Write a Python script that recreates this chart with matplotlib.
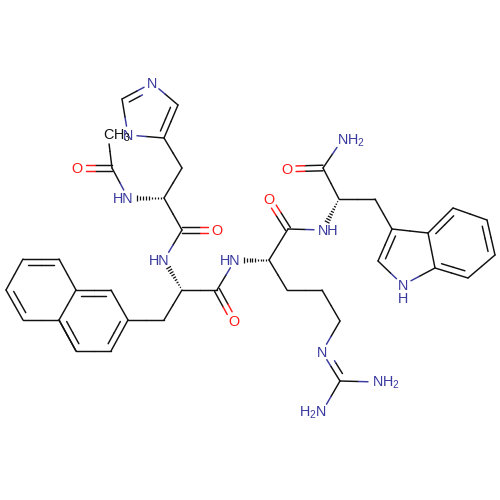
import numpy as np
import matplotlib
matplotlib.use('Agg')
import matplotlib.pyplot as plt

plt.rcParams['font.family'] = ['Liberation Sans', 'DejaVu Sans']
plt.rcParams['mathtext.fontset'] = 'custom'
plt.rcParams['mathtext.rm'] = 'Liberation Sans'
plt.rcParams['mathtext.default'] = 'regular'

NAVY = '#3a3a9e'
RED = '#ff1a1a'
BLACK = '#111111'

# atoms (pixels)
atom_ids = ['ac_me', 'ac_c', 'ac_o', 'his_n', 'his_ca', 'his_cb', 'im_c5', 'im_c4', 'im_n1', 'im_c2', 'im_n3',
            'his_c', 'his_o', 'nal_n', 'nal_ca', 'nal_cb', 'nal_c', 'nal_o',
            'np1', 'np2', 'np3', 'np4', 'np5', 'np6', 'np7', 'np8', 'np9', 'np10',
            'arg_n', 'arg_ca', 'arg_c', 'arg_o', 'arg_cb', 'arg_cg', 'arg_cd', 'arg_ne', 'arg_cz', 'arg_n1', 'arg_n2',
            'trp_n', 'trp_ca', 'trp_c', 'trp_o', 'trp_nt', 'trp_cb',
            'in3', 'in3a', 'in4', 'in5', 'in6', 'in7', 'in7a', 'in1', 'in2']
atom_x = [108, 112, 77, 128, 164, 182, 164, 178, 152, 122, 128,
          182, 217, 164, 182, 164, 217, 234,
          128, 111, 76, 59, 23, 6, 23, 59, 76, 111,
          235, 269, 288, 269, 287, 322, 340, 322, 340, 377, 322,
          323, 339, 323, 287, 342, 375,
          392, 428, 453, 487, 495, 468, 435, 403, 378]
atom_y = [135, 168, 168, 198, 198, 168, 138, 105, 83, 99, 135,
          230, 230, 260, 290, 320, 290, 321,
          320, 351, 351, 320, 320, 290, 259, 259, 290, 290,
          260, 260, 229, 199, 290, 290, 321, 352, 381, 382, 412,
          230, 199, 168, 169, 140, 199,
          229, 233, 208, 220, 255, 278, 268, 285, 261]
hetero_atoms = {'ac_me': BLACK, 'ac_o': RED, 'his_n': NAVY, 'im_n1': NAVY, 'im_n3': NAVY, 'his_o': RED,
                'nal_n': NAVY, 'nal_o': RED, 'arg_n': NAVY, 'arg_o': RED, 'arg_ne': NAVY, 'arg_n1': NAVY,
                'arg_n2': NAVY, 'trp_n': NAVY, 'trp_o': RED, 'trp_nt': NAVY, 'in1': NAVY}

single_bonds = [('ac_me', 'ac_c'), ('ac_c', 'his_n'), ('his_ca', 'his_cb'), ('his_cb', 'im_c5'), ('im_c5', 'im_n3'),
                ('im_n3', 'im_c2'), ('im_c4', 'im_n1'), ('his_ca', 'his_c'), ('his_c', 'nal_n'),
                ('nal_ca', 'nal_cb'), ('nal_cb', 'np1'), ('nal_ca', 'nal_c'), ('nal_c', 'arg_n'),
                ('np1', 'np10'), ('np3', 'np2'), ('np4', 'np3'), ('np4', 'np5'), ('np6', 'np7'), ('np8', 'np9'),
                ('np9', 'np4'), ('arg_ca', 'arg_c'), ('arg_ca', 'arg_cb'), ('arg_cb', 'arg_cg'), ('arg_cg', 'arg_cd'),
                ('arg_cd', 'arg_ne'), ('arg_cz', 'arg_n1'), ('arg_cz', 'arg_n2'), ('arg_c', 'trp_n'),
                ('trp_ca', 'trp_c'), ('trp_c', 'trp_nt'), ('trp_ca', 'trp_cb'), ('trp_cb', 'in3'),
                ('in3', 'in3a'), ('in3a', 'in7a'), ('in4', 'in5'), ('in6', 'in7'), ('in7a', 'in1'), ('in1', 'in2')]
carbonyl_bonds = [('ac_c', 'ac_o'), ('his_c', 'his_o'), ('nal_c', 'nal_o'), ('arg_c', 'arg_o'), ('trp_c', 'trp_o')]
# the inner line of these sits on the side of the third atom
inner_double_bonds = [('np7', 'np8', 'np4'), ('np6', 'np5', 'np9'), ('np9', 'np10', 'np2'), ('np1', 'np2', 'np9'),
                      ('np3', 'np4', 'np10'), ('im_n1', 'im_c2', 'im_c5'), ('im_c4', 'im_c5', 'im_n1'),
                      ('in2', 'in3', 'in7a'), ('in3a', 'in4', 'in6'), ('in5', 'in6', 'in7a'), ('in7', 'in7a', 'in5'),
                      ('arg_ne', 'arg_cz', 'arg_n1')]
hash_bonds = [('his_ca', 'his_n'), ('nal_ca', 'nal_n'), ('arg_ca', 'arg_n'), ('trp_ca', 'trp_n')]

# atom, text, colour, alignment
labels = [('ac_o', 'O', RED, 'center'), ('his_o', 'O', RED, 'center'), ('nal_o', 'O', RED, 'center'),
          ('arg_o', 'O', RED, 'center'), ('trp_o', 'O', RED, 'center'),
          ('im_n1', 'N', NAVY, 'center'), ('im_n3', 'N', NAVY, 'center'), ('arg_ne', 'N', NAVY, 'center'),
          ('in1', 'N', NAVY, 'center'),
          ('his_n', 'HN', NAVY, 'right'), ('nal_n', 'HN', NAVY, 'right'), ('arg_n', 'HN', NAVY, 'right'),
          ('arg_n2', 'H$_2$N', NAVY, 'right'),
          ('trp_n', 'NH', NAVY, 'left'), ('trp_nt', 'NH$_2$', NAVY, 'left'), ('arg_n1', 'NH$_2$', NAVY, 'left'),
          ('ac_me', 'CH$_3$', BLACK, 'left')]

pos = {a: np.array([x, y], dtype=float) for a, x, y in zip(atom_ids, atom_x, atom_y)}
LW = 1.05
TRIM = 9.0
FS = 10.4


def half_bond(ax, p, q, a, b):
    # p,q already offset; each half takes the colour of its atom
    d = q - p
    unit = d / np.linalg.norm(d)
    mid = (p + q) / 2
    start = p + unit * TRIM if a in hetero_atoms else p
    end = q - unit * TRIM if b in hetero_atoms else q
    ax.plot([start[0], mid[0]], [start[1], mid[1]], color=hetero_atoms.get(a, BLACK), lw=LW, solid_capstyle='round')
    ax.plot([mid[0], end[0]], [mid[1], end[1]], color=hetero_atoms.get(b, BLACK), lw=LW, solid_capstyle='round')


fig = plt.figure(figsize=(5, 5), dpi=100)
ax = fig.add_axes([0, 0, 1, 1])
ax.set_xlim(0, 500)
ax.set_ylim(500, 0)
ax.axis('off')

for a, b in single_bonds:
    half_bond(ax, pos[a], pos[b], a, b)

for a, b in carbonyl_bonds:
    d = pos[b] - pos[a]
    n = np.array([-d[1], d[0]]) / np.linalg.norm(d)
    half_bond(ax, pos[a] + n * 2.8, pos[b] + n * 2.8, a, b)
    half_bond(ax, pos[a] - n * 2.8, pos[b] - n * 2.8, a, b)

for a, b, side in inner_double_bonds:
    half_bond(ax, pos[a], pos[b], a, b)
    d = pos[b] - pos[a]
    unit = d / np.linalg.norm(d)
    n = np.array([-d[1], d[0]]) / np.linalg.norm(d)
    if np.dot(pos[side] - pos[a], n) < 0:
        n = -n
    p = pos[a] + n * 6 + unit * 5
    q = pos[b] + n * 6 - unit * 5
    half_bond(ax, p, q, a, b)

for a, b in hash_bonds:
    d = pos[b] - pos[a]
    length = np.linalg.norm(d)
    unit = d / length
    n = np.array([-unit[1], unit[0]])
    for t in np.linspace(3, length - 9, 9):
        w = 0.3 + 3.2 * t / length
        c = pos[a] + unit * t
        ax.plot([c[0] - n[0] * w, c[0] + n[0] * w], [c[1] - n[1] * w, c[1] + n[1] * w],
                color=BLACK, lw=0.9, solid_capstyle='butt')

for a, text, colour, align in labels:
    x, y = pos[a]
    if align == 'right':
        x = x + 5
    elif align == 'left':
        x = x - 5
    ax.text(x, y + 5, text, color=colour, fontsize=FS, ha=align, va='baseline')
ax.text(pos['in1'][0], pos['in1'][1] + 18, 'H', color=NAVY, fontsize=FS, ha='center', va='baseline')

fig.savefig('out.png', dpi=100, facecolor='white')
